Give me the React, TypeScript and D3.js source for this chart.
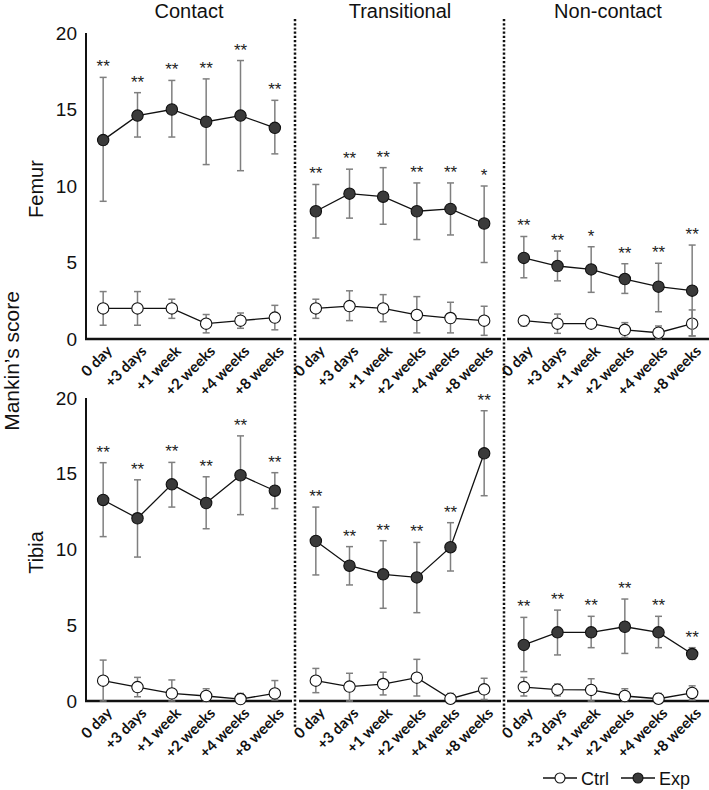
import React from "react";
import * as d3 from "d3";

const timepoints = ["0 day", "+3 days", "+1 week", "+2 weeks", "+4 weeks", "+8 weeks"];
const groupNames = ["Contact", "Transitional", "Non-contact"];
const rowNames = ["Femur", "Tibia"];
const yTicks = [0, 5, 10, 15, 20];
const seriesNames = ["Ctrl", "Exp"];

// [mean, lower, upper]
const femurContactExp = [[13.0, 9.0, 17.1], [14.6, 13.2, 16.1], [15.0, 13.2, 16.9], [14.2, 11.4, 17.0], [14.6, 11.0, 18.2], [13.8, 12.1, 15.6]];
const femurContactCtrl = [[2.0, 0.9, 3.1], [2.0, 0.9, 3.1], [2.0, 1.35, 2.6], [1.0, 0.4, 1.6], [1.2, 0.7, 1.7], [1.4, 0.6, 2.2]];
const femurTransExp = [[8.35, 6.6, 10.1], [9.5, 7.9, 11.1], [9.3, 7.5, 11.2], [8.35, 6.5, 10.2], [8.5, 6.8, 10.2], [7.55, 5.0, 10.0]];
const femurTransCtrl = [[2.0, 1.35, 2.6], [2.15, 1.2, 3.15], [2.0, 1.13, 2.9], [1.57, 0.4, 2.77], [1.37, 0.4, 2.4], [1.2, 0.24, 2.14]];
const femurNonExp = [[5.3, 4.0, 6.7], [4.77, 3.8, 5.75], [4.55, 3.05, 6.03], [3.92, 2.98, 4.92], [3.42, 1.78, 4.95], [3.16, 0.2, 6.14]];
const femurNonCtrl = [[1.2, 0.85, 1.5], [1.0, 0.37, 1.63], [1.0, 1.0, 1.0], [0.6, 0.1, 1.07], [0.41, 0.0, 0.85], [1.0, 0.2, 1.9]];

const tibiaContactExp = [[13.27, 10.85, 15.73], [12.06, 9.5, 14.6], [14.3, 12.8, 15.75], [13.07, 11.37, 14.8], [14.9, 12.3, 17.5], [13.88, 12.7, 15.07]];
const tibiaContactCtrl = [[1.34, 0, 2.7], [0.92, 0.28, 1.56], [0.5, 0, 1.39], [0.33, 0, 0.81], [0.13, 0, 0.5], [0.5, 0.07, 1.35]];
const tibiaTransExp = [[10.56, 8.32, 12.8], [8.93, 7.66, 10.19], [8.36, 6.12, 10.58], [8.16, 5.83, 10.47], [10.15, 8.58, 11.77], [16.35, 13.55, 19.16]];
const tibiaTransCtrl = [[1.34, 0.55, 2.15], [0.95, 0, 1.83], [1.12, 0.4, 1.9], [1.54, 0.33, 2.75], [0.15, 0, 0.5], [0.77, 0.1, 1.5]];
const tibiaNonExp = [[3.7, 1.94, 5.52], [4.53, 3.04, 6.0], [4.53, 3.52, 5.59], [4.9, 3.14, 6.73], [4.53, 3.52, 5.59], [3.1, 2.75, 3.52]];
const tibiaNonCtrl = [[0.92, 0.33, 1.56], [0.75, 0.33, 1.12], [0.73, 0, 1.47], [0.33, 0, 0.81], [0.15, 0, 0.5], [0.53, 0.07, 1.0]];

const femurContactSig = ["**", "**", "**", "**", "**", "**"];
const femurTransSig = ["**", "**", "**", "**", "**", "*"];
const femurNonSig = ["**", "**", "*", "**", "**", "**"];
const tibiaContactSig = ["**", "**", "**", "**", "**", "**"];
const tibiaTransSig = ["**", "**", "**", "**", "**", "**"];
const tibiaNonSig = ["**", "**", "**", "**", "**", "**"];

const rowsData = [
  [
    { ctrl: femurContactCtrl, exp: femurContactExp, sig: femurContactSig },
    { ctrl: femurTransCtrl, exp: femurTransExp, sig: femurTransSig },
    { ctrl: femurNonCtrl, exp: femurNonExp, sig: femurNonSig },
  ],
  [
    { ctrl: tibiaContactCtrl, exp: tibiaContactExp, sig: tibiaContactSig },
    { ctrl: tibiaTransCtrl, exp: tibiaTransExp, sig: tibiaTransSig },
    { ctrl: tibiaNonCtrl, exp: tibiaNonExp, sig: tibiaNonSig },
  ],
];

const W = 709;
const H = 790;
const panelRanges: [number, number][] = [[86, 292], [299, 501], [507, 709]];
const rowRanges: [number, number][] = [[339, 33], [701, 398]];
const separators = [295, 504];
const ARIAL = "'Liberation Sans', Arial, sans-serif";
const LABEL_FONT = "Lato, 'Liberation Sans', sans-serif";
const EXP_FILL = "#3a3a3a";
const ERR_COLOR = "#7f7f7f";

function Series({ data, x, y, fill }: any) {
  const line = d3
    .line<number[]>()
    .x((_d, i) => x(timepoints[i])! + x.bandwidth() / 2)
    .y((d) => y(d[0]));
  return (
    <g>
      {data.map((d: number[], i: number) => {
        const cx = x(timepoints[i])! + x.bandwidth() / 2;
        if (d[2] - d[1] < 0.01) return null;
        return (
          <g key={"e" + i} stroke={ERR_COLOR} strokeWidth={1.5}>
            <line x1={cx} x2={cx} y1={y(d[1])} y2={y(d[2])} />
            <line x1={cx - 3.5} x2={cx + 3.5} y1={y(d[2])} y2={y(d[2])} />
            <line x1={cx - 3.5} x2={cx + 3.5} y1={y(d[1])} y2={y(d[1])} />
          </g>
        );
      })}
      <path d={line(data) || ""} fill="none" stroke="#111" strokeWidth={1.3} />
      {data.map((d: number[], i: number) => (
        <circle
          key={"c" + i}
          cx={x(timepoints[i])! + x.bandwidth() / 2}
          cy={y(d[0])}
          r={5.7}
          fill={fill}
          stroke="#111"
          strokeWidth={1.1}
        />
      ))}
    </g>
  );
}

export default function App() {
  return (
    <svg
      width={W}
      height={H}
      viewBox={`0 0 ${W} ${H}`}
      style={{ position: "absolute", left: 0, top: 0, background: "#fff" }}
    >
      <rect x={0} y={0} width={W} height={H} fill="#fff" />
      {groupNames.map((g, gi) => (
        <text
          key={g}
          x={(panelRanges[gi][0] + panelRanges[gi][1]) / 2}
          y={18}
          textAnchor="middle"
          fontFamily={ARIAL}
          fontSize={20}
          fill="#111"
        >
          {g}
        </text>
      ))}
      {separators.map((sx) => (
        <line key={sx} x1={sx} x2={sx} y1={19} y2={727} stroke="#111" strokeWidth={2.5} strokeDasharray="2.2 2" />
      ))}
      <text
        transform={`translate(19,361) rotate(-90)`}
        textAnchor="middle"
        fontFamily={ARIAL}
        fontSize={21}
        fill="#111"
      >
        Mankin’s score
      </text>
      {rowsData.map((row, ri) => {
        const y = d3.scaleLinear().domain([0, 20]).range(rowRanges[ri]);
        const axisY = rowRanges[ri][0];
        return (
          <g key={ri}>
            <text
              transform={`translate(43,${(rowRanges[ri][0] + rowRanges[ri][1]) / 2 + 3}) rotate(-90)`}
              textAnchor="middle"
              fontFamily={ARIAL}
              fontSize={20}
              fill="#111"
            >
              {rowNames[ri]}
            </text>
            <line x1={86} x2={86} y1={rowRanges[ri][1]} y2={axisY + 1} stroke="#111" strokeWidth={2} />
            {yTicks.map((t) => (
              <text
                key={t}
                x={77}
                y={y(t)}
                dy="0.35em"
                textAnchor="end"
                fontFamily={ARIAL}
                fontSize={19}
                fill="#111"
              >
                {t}
              </text>
            ))}
            {row.map((p, pi) => {
              const x = d3.scaleBand<string>().domain(timepoints).range(panelRanges[pi]);
              return (
                <g key={pi}>
                  <line
                    x1={panelRanges[pi][0] - (pi === 0 ? 1 : 0)}
                    x2={panelRanges[pi][1]}
                    y1={axisY}
                    y2={axisY}
                    stroke="#111"
                    strokeWidth={2.5}
                  />
                  <Series data={p.ctrl} x={x} y={y} fill="#fff" />
                  <Series data={p.exp} x={x} y={y} fill={EXP_FILL} />
                  {p.sig.map((s: string, i: number) => (
                    <text
                      key={"s" + i}
                      x={x(timepoints[i])! + x.bandwidth() / 2}
                      y={y(p.exp[i][2]) - 5}
                      textAnchor="middle"
                      fontFamily={ARIAL}
                      fontSize={17}
                      fill="#222"
                    >
                      {s}
                    </text>
                  ))}
                  {timepoints.map((t) => {
                    const cx = x(t)! + x.bandwidth() / 2;
                    return (
                      <text
                        key={t}
                        transform={`translate(${cx + 10},${axisY + 13}) rotate(-45)`}
                        textAnchor="end"
                        fontFamily={LABEL_FONT}
                        fontWeight="bold"
                        fontSize={15}
                        fill="#111"
                      >
                        {t}
                      </text>
                    );
                  })}
                </g>
              );
            })}
          </g>
        );
      })}
      {seriesNames.map((s, i) => {
        const lx = 543 + i * 78;
        const ly = 778;
        return (
          <g key={s}>
            <line x1={lx} x2={lx + 34} y1={ly} y2={ly} stroke="#111" strokeWidth={1.3} />
            <circle cx={lx + 17} cy={ly} r={5} fill={i === 0 ? "#fff" : EXP_FILL} stroke="#111" strokeWidth={1.1} />
            <text x={lx + 38} y={ly + 6.5} fontFamily={ARIAL} fontSize={18} fill="#111">
              {s}
            </text>
          </g>
        );
      })}
    </svg>
  );
}
